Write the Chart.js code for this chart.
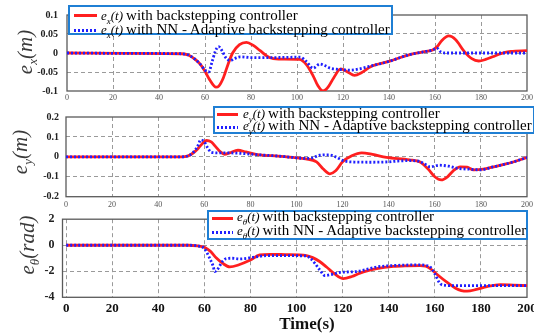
<!DOCTYPE html>
<html>
<head>
<meta charset="utf-8">
<script src="https://cdn.jsdelivr.net/npm/chart.js@4.4.1/dist/chart.umd.min.js"></script>
<style>
html,body{margin:0;padding:0;background:#fff;}
#wrap{position:relative;width:534px;height:333px;overflow:hidden;background:#fff;}
canvas{position:absolute;left:0;}
.leg{position:absolute;box-sizing:border-box;border:2px solid #1f7fd4;background:#fff;font-family:"Liberation Serif",serif;font-size:15px;color:#000;}
.leg .s{position:absolute;height:3px;}
.leg .r{background:#ff1f1f;}
.leg .b{background:repeating-linear-gradient(90deg,#1f1fff 0 2px,transparent 2px 4px);}
.leg .t{position:absolute;white-space:nowrap;line-height:15px;}
.m{font-style:italic;font-size:13px;margin-right:3px;}
.m sub{font-size:9px;line-height:0;}
.yt{position:absolute;font-family:"Liberation Serif",serif;font-style:italic;font-size:21px;color:#3a3a3a;white-space:nowrap;transform:translate(-50%,-50%) rotate(-90deg);line-height:21px;}
.yt sub{font-size:13px;line-height:0;}
#xt{position:absolute;left:307px;top:324px;transform:translate(-50%,-50%);font-family:"Liberation Serif",serif;font-weight:bold;font-size:17px;color:#111;white-space:nowrap;}
</style>
</head>
<body>
<div id="wrap">
  <canvas id="c1" width="550" height="106" style="top:0px"></canvas>
  <canvas id="c2" width="550" height="108" style="top:104px"></canvas>
  <canvas id="c3" width="550" height="129" style="top:204px"></canvas>

  <div class="yt" style="left:25px;top:52px"><i>e</i><sub>x</sub>(<i>m</i>)</div>
  <div class="yt" style="left:20px;top:152px"><i>e</i><sub>y</sub>(<i>m</i>)</div>
  <div class="yt" style="left:27px;top:245px"><i>e</i><sub>θ</sub>(<i>rad</i>)</div>
  <div id="xt">Time(s)</div>

  <div class="leg" style="left:68px;top:5px;width:325px;height:30px">
    <div class="s r" style="left:4px;top:6.5px;width:23px"></div>
    <div class="t" style="left:31px;top:0.5px"><span class="m">e<sub>x</sub>(t)</span>with backstepping controller</div>
    <div class="s b" style="left:4px;top:21.5px;width:23px"></div>
    <div class="t" style="left:31px;top:14.5px"><span class="m">e<sub>x</sub>(t)</span>with NN - Adaptive backstepping controller</div>
  </div>
  <div class="leg" style="left:213px;top:106px;width:322px;height:28px">
    <div class="s r" style="left:2px;top:4.5px;width:21px"></div>
    <div class="t" style="left:28px;top:-2.5px"><span class="m">e<sub>y</sub>(t)</span>with backstepping controller</div>
    <div class="s b" style="left:2px;top:17.5px;width:21px"></div>
    <div class="t" style="left:28px;top:9.5px"><span class="m">e<sub>y</sub>(t)</span>with NN - Adaptive backstepping controller</div>
  </div>
  <div class="leg" style="left:207px;top:210px;width:321px;height:30px">
    <div class="s r" style="left:3px;top:4.5px;width:21px"></div>
    <div class="t" style="left:28px;top:-2.8px"><span class="m">e<sub>θ</sub>(t)</span>with backstepping controller</div>
    <div class="s b" style="left:3px;top:18.5px;width:21px"></div>
    <div class="t" style="left:28px;top:11.2px"><span class="m">e<sub>θ</sub>(t)</span>with NN - Adaptive backstepping controller</div>
  </div>
</div>
<script>
// e_x, backstepping (red) and NN adaptive (blue)
var exRedT = [0,26,50,53,56,58,60,62,64.8,66,68,70,72,75,78,81,84,88,92,101,104,107,109,111.3,113.5,116,119,122,125,128,132,140,149,156,159,161,163,166,169,172.6,176,179,182,185,189,193,200];
var exRed  = [0,-0.001,-0.002,-0.006,-0.018,-0.03,-0.048,-0.07,-0.09,-0.087,-0.065,-0.03,0,0.022,0.028,0.02,0.006,-0.012,-0.016,-0.017,-0.03,-0.06,-0.085,-0.1,-0.09,-0.065,-0.042,-0.05,-0.059,-0.052,-0.036,-0.022,-0.004,0.004,0.008,0.017,0.033,0.045,0.035,0.005,-0.015,-0.021,-0.017,-0.01,-0.001,0.004,0.006];
var exBlueT = [0,26,50,53,56,58,60,61.6,63,64.5,65.9,67.5,69,71,73,75.4,80,90,101.4,104,107,110,112,114.5,118,123,127,131,140,149,156,159,160.8,162.5,165,180,200];
var exBlue  = [0,-0.001,-0.002,-0.006,-0.018,-0.03,-0.045,-0.05,-0.025,0.005,0.017,0.005,-0.012,-0.02,-0.014,-0.01,-0.012,-0.012,-0.011,-0.022,-0.04,-0.029,-0.033,-0.04,-0.043,-0.045,-0.042,-0.036,-0.022,-0.004,0.004,0.008,0.013,0.003,0,0,0];

// e_y
var eyRedT = [0,50,53,55,57,59,60.9,63,65,67,68.8,71,74.6,78,84,92,98.5,104,108.7,111.5,114.5,117,120,124,128.3,133,139,149,153.6,157,160,162.8,165.5,168,171,174,176.8,181,185.5,190,194,200];
var eyRed  = [0,0,0.005,0.018,0.038,0.065,0.082,0.075,0.05,0.025,0.013,0.02,0.033,0.025,0.01,0.004,-0.003,-0.01,-0.025,-0.06,-0.085,-0.07,-0.025,0.005,0.02,0.012,-0.003,-0.015,-0.026,-0.06,-0.1,-0.116,-0.1,-0.07,-0.05,-0.052,-0.065,-0.062,-0.05,-0.038,-0.026,-0.003];
var eyBlueT = [0,50,53,55,57,58.5,60,61.5,63,66,69.6,75.4,84,92,98.5,104,107,110,114,117,120.3,125,133,140,144,149,153,155.5,158,162,166,169.6,175,179.7,185.5,190,194,200];
var eyBlue  = [0,0,0.005,0.02,0.05,0.085,0.075,0.045,0.023,0.02,0.02,0.018,0.01,0.004,-0.003,-0.008,-0.005,0.008,0.01,0,-0.019,-0.026,-0.027,-0.025,-0.021,-0.019,-0.022,-0.035,-0.05,-0.042,-0.047,-0.057,-0.062,-0.065,-0.05,-0.038,-0.026,-0.003];

// e_theta
var ethRedT = [0,53,57,60,62.5,65.2,68,71,75,79.7,84,88.4,95,104.3,107,110,113,116.5,120.3,124,127.5,131,134.8,142,148,153.6,156,158,161,165.2,169,171.5,174,178,182.6,188.4,194,200];
var ethRed  = [0,0,-0.05,-0.15,-0.45,-0.98,-1.4,-1.67,-1.5,-1.16,-0.75,-0.7,-0.72,-0.79,-0.95,-1.25,-1.67,-2.2,-2.56,-2.4,-2.14,-1.95,-1.79,-1.63,-1.58,-1.56,-1.6,-1.79,-2.25,-2.84,-3.3,-3.48,-3.53,-3.4,-3.18,-3.02,-3.06,-3.11];
var ethBlueT = [0,53,57,60.1,62,63.7,64.5,65.5,66.7,68,69.6,72,75.4,81.2,87,95,104,105.8,108,110.1,112.3,115,118.8,126,134.8,142,153.6,156,158,160,162.3,164.5,166.7,180,200];
var ethBlue  = [0,0,-0.05,-0.28,-0.9,-1.56,-2.02,-1.9,-1.56,-1.2,-1.02,-1,-1.05,-0.93,-0.8,-0.8,-0.82,-0.98,-1.4,-1.91,-2.33,-2.25,-2.09,-2.02,-1.67,-1.56,-1.51,-1.55,-1.67,-2.2,-2.95,-3.08,-3.11,-3.11,-3.11];

function pts(t, v){
    return t.map(function(x, i){ return {x: x, y: v[i]}; });
}

// box around the plot area
var frame = {
    id: 'frame',
    beforeDatasetsDraw: function(chart){
        var a = chart.chartArea, c = chart.ctx;
        c.save();
        c.strokeStyle = '#5a5a5a';
        c.lineWidth = 1.3;
        c.strokeRect(a.left, a.top, a.right - a.left, a.bottom - a.top);
        c.restore();
    }
};

function gridCol(ctx){
    var s = ctx.scale;
    if (!ctx.tick) return 'rgba(0,0,0,0)';
    var v = ctx.tick.value;
    if (Math.abs(v - s.min) < 1e-9 || Math.abs(v - s.max) < 1e-9) return 'rgba(0,0,0,0)';
    return '#9a9a9a';
}

function panel(id, red, blue, o){
    new Chart(document.getElementById(id), {
        type: 'line',
        data: {
            datasets: [
                {data: red, borderColor: '#ff1f1f', borderWidth: 2.8, pointRadius: 0, cubicInterpolationMode: 'monotone', order: 1},
                {data: blue, borderColor: '#1f1fff', borderWidth: 2.8, borderDash: [2, 2], pointRadius: 0, cubicInterpolationMode: 'monotone', order: 0}
            ]
        },
        options: {
            responsive: false,
            animation: false,
            events: [],
            layout: {padding: {top: o.top, right: 23, left: 0, bottom: 0}},
            plugins: {legend: {display: false}, tooltip: {enabled: false}},
            scales: {
                x: {
                    type: 'linear', min: o.xmin, max: 200,
                    ticks: {stepSize: 20, includeBounds: false, padding: o.xpad, font: o.xfont, color: o.xcolor, maxRotation: 0},
                    grid: {color: gridCol, drawTicks: false, lineWidth: 1},
                    border: {display: false, dash: [4, 3]},
                    afterFit: function(s){ s.height = o.xh; }
                },
                y: {
                    type: 'linear', min: o.ymin, max: o.ymax,
                    ticks: {stepSize: o.step, padding: o.ypad, font: {family: 'Liberation Serif', weight: 'bold', size: o.ysize}, color: '#222',
                        callback: function(v){ return String(Number(v.toFixed(2))); }},
                    grid: {color: gridCol, drawTicks: false, lineWidth: 1},
                    border: {display: false, dash: [4, 3]},
                    afterFit: function(s){ s.width = o.yw; }
                }
            }
        },
        plugins: [frame]
    });
}

var smallX = {family: 'Liberation Sans Narrow', size: 8};

panel('c1', pts(exRedT, exRed), pts(exBlueT, exBlue),
    {top: 7, xh: 11, yw: 67, xmin: 0, ymin: -0.1, ymax: 0.1, step: 0.05, xpad: 2, xfont: smallX, xcolor: '#555', ypad: 9, ysize: 10});
panel('c2', pts(eyRedT, eyRed), pts(eyBlueT, eyBlue),
    {top: 6.7, xh: 15.3, yw: 66, xmin: 0, ymin: -0.2, ymax: 0.2, step: 0.1, xpad: 3, xfont: smallX, xcolor: '#555', ypad: 7, ysize: 10});
panel('c3', pts(ethRedT, ethRed), pts(ethBlueT, ethBlue),
    {top: 7, xh: 35.7, yw: 62.5, xmin: -1.6, ymin: -4, ymax: 2, step: 2, xpad: 4, xfont: {family: 'Liberation Serif', weight: 'bold', size: 13}, xcolor: '#111', ypad: 8, ysize: 12});
</script>
</body>
</html>
